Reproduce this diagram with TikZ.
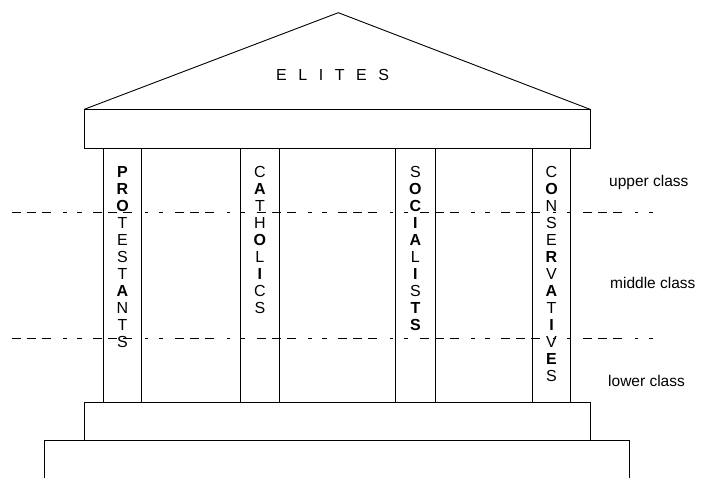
\documentclass[tikz,border=0pt]{standalone}
\usepackage{fontspec}
\setmainfont{Liberation Sans}
\newcommand\hb[1]{\textbf{#1}}
\begin{document}
\begin{tikzpicture}[x=1pt,y=-1pt,
  part/.style={draw, line width=0.9pt},
  classline/.style={line width=0.9pt, dash pattern=on 9pt off 6pt on 9pt off 6pt on 9pt off 12.6pt on 3.4pt off 10.6pt on 4.4pt off 11.6pt},
  pillartext/.style={inner sep=0pt, align=center, font=\fontsize{16}{17}\selectfont},
  classlabel/.style={inner sep=0pt, anchor=base west, font=\fontsize{15.5}{18}\selectfont}]
\useasboundingbox (0,0) rectangle (702,477);
% roof
\draw[part] (84.3,109.3) -- (338.3,12.7) -- (590,109.3);
\draw[part] (84.3,109.3) rectangle (590,148.7);
% columns
\draw[part] (103.3,148.7) rectangle (141.7,402);
\draw[part] (240.7,148.7) rectangle (279,402);
\draw[part] (395.7,148.7) rectangle (435,402);
\draw[part] (532.3,148.7) rectangle (570.7,402);
% stylobate and base
\draw[part] (84.3,402) rectangle (590.3,440.3);
\draw[part] (44.7,478) -- (44.7,440.3) -- (629.7,440.3) -- (629.7,478);
% title
\node[inner sep=0pt, anchor=base west, font={\fontsize{16}{18}\selectfont\addfontfeature{LetterSpace=72}}] (elites) at (276,80) {ELITES};
% pillar texts
\node[pillartext] (prot) at (122.5,257) {\hb{P}\\\hb{R}\\\hb{O}\\T\\E\\S\\T\\\hb{A}\\N\\T\\S};
\node[pillartext] (cath) at (259.9,240) {C\\\hb{A}\\T\\H\\\hb{O}\\L\\\hb{I}\\C\\S};
\node[pillartext] (soc) at (415.4,248.5) {S\\\hb{O}\\\hb{C}\\\hb{I}\\\hb{A}\\L\\\hb{I}\\S\\\hb{T}\\\hb{S}};
\node[pillartext] (cons) at (551.5,274) {C\\\hb{O}\\N\\S\\E\\\hb{R}\\V\\\hb{A}\\T\\\hb{I}\\V\\\hb{E}\\S};
% class lines
\coordinate (u1) at (11.7,212.3);
\coordinate (u2) at (657,212.3);
\coordinate (l1) at (11.7,338.3);
\coordinate (l2) at (657,338.3);
\draw[classline] (u1) -- (u2);
\draw[classline] (l1) -- (l2);
% class labels
\node[classlabel] (upper) at (609,186) {upper class};
\node[classlabel] (middle) at (610,288) {middle class};
\node[classlabel] (lower) at (608,386) {lower class};
\end{tikzpicture}
\end{document}
